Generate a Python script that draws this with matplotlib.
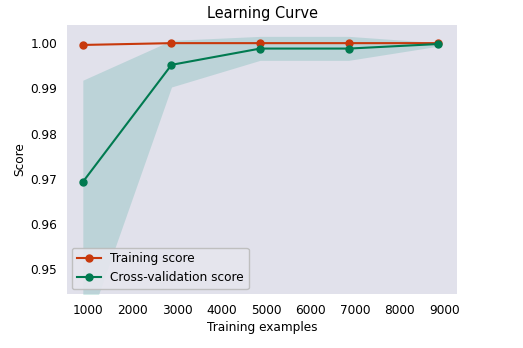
import matplotlib
matplotlib.use("Agg")
import matplotlib.pyplot as plt
import numpy as np

# learning curve values
train_sizes = [885, 2876, 4867, 6858, 8850]
train_score = [0.9996, 1.0000, 1.0000, 1.0000, 1.0000]
cv_score = [0.9693, 0.9952, 0.9988, 0.9988, 0.9998]
cv_upper = [0.9918, 1.0006, 1.0015, 1.0015, 1.0001]
cv_lower = [0.9345, 0.9903, 0.9962, 0.9962, 0.9993]

plt.rcParams["font.size"] = 8.7

fig = plt.figure(figsize=(5.23, 3.48), dpi=100)
ax = fig.add_axes([0.128, 0.155, 0.746, 0.773])
ax.set_facecolor("#e1e1eb")
for s in ax.spines.values():
    s.set_visible(False)

ax.fill_between(train_sizes, cv_lower, cv_upper, color="#2a9d8f", alpha=0.2, linewidth=0)
ax.plot(train_sizes, train_score, "o-", color="#c8390c", markersize=5, linewidth=1.5, label="Training score")
ax.plot(train_sizes, cv_score, "o-", color="#007a50", markersize=5, linewidth=1.5, label="Cross-validation score")

ax.set_xlim(528, 9290)
ax.set_ylim(0.9445, 1.004)
ax.set_xticks(np.arange(1000, 9001, 1000))
ax.set_yticks([0.95, 0.96, 0.97, 0.98, 0.99, 1.00])
ax.tick_params(length=0, pad=7)
ax.set_title("Learning Curve", pad=5)
ax.set_xlabel("Training examples", labelpad=3)
ax.set_ylabel("Score", labelpad=3)
ax.legend(loc="lower left", borderaxespad=0.4, facecolor="#e6e6ee", edgecolor="#bbbbbb", framealpha=0.9)

fig.savefig("out.png", dpi=100)
